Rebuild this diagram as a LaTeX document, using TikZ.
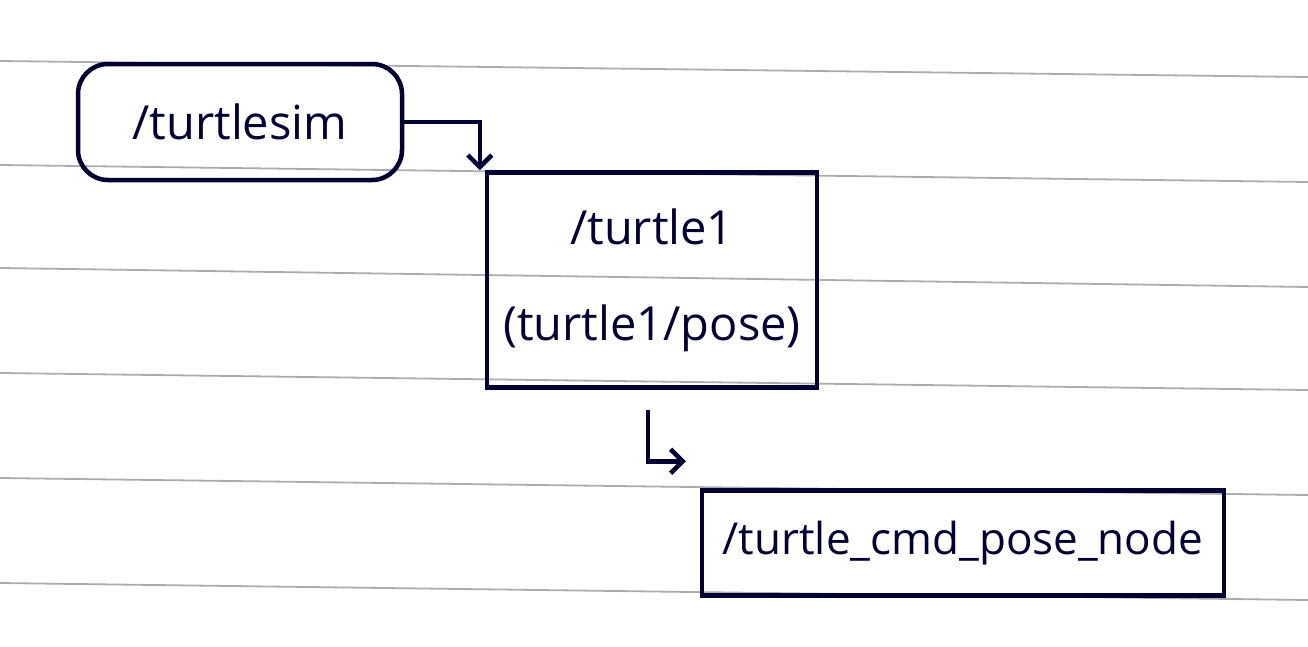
\documentclass[tikz,border=0pt]{standalone}
\usepackage{fontspec}
\setmainfont{Open Sans}
\usetikzlibrary{positioning,arrows.meta}
\begin{document}
\begin{tikzpicture}[x=1pt, y=-1pt, line width=4.5pt, color={black!80!blue},
    font=\fontsize{47}{56}\selectfont,
    >={Straight Barb[length=12pt,width=24pt]}]
	\useasboundingbox (0,0) rectangle (1308,646);
	% ruled paper
	\foreach \ya/\yb in {61/77,165/182,268/287,373/390,478/495,583/600}
		\draw[gray!65, line width=1.8pt] (0,\ya) -- (1308,\yb);

	\node (turtlesim) [draw, rounded corners=30pt, minimum width=324pt, minimum height=116pt] at (240,122) {/turtlesim};
	\node (turtle) [draw, rectangle, minimum width=330pt, minimum height=215pt, align=center] at (652,280) {/turtle1\\[40pt](turtle1/pose)};
	\node (cmd) [draw, rectangle, minimum width=522pt, minimum height=105pt, font=\fontsize{44}{52}\selectfont] at (963,543) {/turtle\_cmd\_pose\_node};

	\coordinate (poseout) at ([shift={(-4,20)}]turtle.south);

	\draw[->] (turtlesim.east) -| ([xshift=-5pt]turtle.north west);
	\draw[->] (poseout) |- ([shift={(-14,-27)}]cmd.north west);
\end{tikzpicture}
\end{document}
